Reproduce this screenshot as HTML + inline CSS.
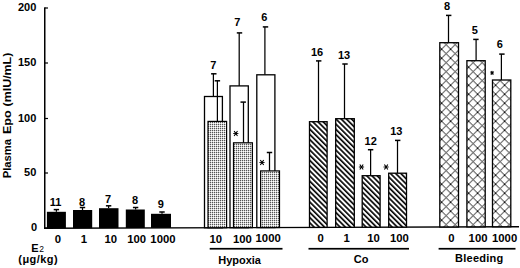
<!DOCTYPE html>
<html><head><meta charset="utf-8"><style>
html,body{margin:0;padding:0;background:#fff;width:520px;height:268px;overflow:hidden;}
svg{display:block;font-family:"Liberation Sans",sans-serif;}
</style></head><body>
<svg width="520" height="268" viewBox="0 0 520 268" font-family="Liberation Sans, sans-serif" font-weight="bold">
<defs>
<pattern id="dots" width="2" height="2" patternUnits="userSpaceOnUse">
 <rect width="2" height="2" fill="#fff"/><rect width="1" height="1" fill="#555"/><rect x="1" width="1" height="1" fill="#d0d0d0"/><rect y="1" width="1" height="1" fill="#d0d0d0"/>
</pattern>
<pattern id="diag" width="3.677" height="3.677" patternUnits="userSpaceOnUse" patternTransform="rotate(45)">
 <rect width="3.677" height="3.677" fill="#fff"/><rect y="0.2" width="3.677" height="1.65" fill="#000"/>
</pattern>
<pattern id="cross" width="9" height="9" patternUnits="userSpaceOnUse" patternTransform="translate(441.6 49.2)">
 <rect width="9" height="9" fill="#fff"/>
 <path d="M0 0 L9 9 M9 0 L0 9 M-1 8 L1 10 M8 -1 L10 1 M-1 1 L1 -1 M8 10 L10 8" stroke="#000" stroke-width="0.9"/>
</pattern>
</defs>
<rect x="44" y="7.3" width="1.5" height="221.5" fill="#000"/>
<rect x="45" y="7.4" width="3" height="1.2" fill="#000"/>
<text x="36.3" y="11.2" text-anchor="end" font-size="11" >200</text>
<rect x="45" y="62.4" width="3" height="1.2" fill="#000"/>
<text x="36.3" y="66.2" text-anchor="end" font-size="11" >150</text>
<rect x="45" y="117.9" width="3" height="1.2" fill="#000"/>
<text x="36.3" y="121.7" text-anchor="end" font-size="11" >100</text>
<rect x="45" y="172.4" width="3" height="1.2" fill="#000"/>
<text x="36.3" y="176.2" text-anchor="end" font-size="11" >50</text>
<rect x="45" y="227.4" width="3" height="1.2" fill="#000"/>
<text x="37.2" y="231.2" text-anchor="end" font-size="11" >0</text>
<path d="M44 228.30 L519 226.70" stroke="#000" stroke-width="1.4" fill="none"/>
<rect x="46.9" y="211.8" width="19.00" height="16.46" fill="#000"/>
<line x1="56.4" y1="211.8" x2="56.4" y2="209.6" stroke="#000" stroke-width="1.25"/><line x1="53.699999999999996" y1="209.6" x2="59.1" y2="209.6" stroke="#000" stroke-width="1.5"/>
<text x="55.6" y="205.7" text-anchor="middle" font-size="11" >11</text>
<rect x="73" y="210" width="19.20" height="18.17" fill="#000"/>
<line x1="82.5" y1="210" x2="82.5" y2="207.5" stroke="#000" stroke-width="1.25"/><line x1="79.8" y1="207.5" x2="85.2" y2="207.5" stroke="#000" stroke-width="1.5"/>
<text x="82" y="205.7" text-anchor="middle" font-size="11" >8</text>
<rect x="99" y="208.2" width="19.50" height="19.88" fill="#000"/>
<line x1="108.6" y1="208.2" x2="108.6" y2="205.8" stroke="#000" stroke-width="1.25"/><line x1="105.89999999999999" y1="205.8" x2="111.3" y2="205.8" stroke="#000" stroke-width="1.5"/>
<text x="108" y="202.7" text-anchor="middle" font-size="11" >7</text>
<rect x="125.8" y="209.5" width="19.00" height="18.49" fill="#000"/>
<line x1="135.6" y1="209.5" x2="135.6" y2="207.5" stroke="#000" stroke-width="1.25"/><line x1="132.9" y1="207.5" x2="138.29999999999998" y2="207.5" stroke="#000" stroke-width="1.5"/>
<text x="135" y="203.5" text-anchor="middle" font-size="11" >8</text>
<rect x="151" y="213.8" width="20.00" height="14.11" fill="#000"/>
<line x1="162" y1="213.8" x2="162" y2="212" stroke="#000" stroke-width="1.25"/><line x1="159.3" y1="212" x2="164.7" y2="212" stroke="#000" stroke-width="1.5"/>
<text x="160.8" y="207.6" text-anchor="middle" font-size="11" >9</text>
<line x1="213.4" y1="96.5" x2="213.4" y2="73.8" stroke="#000" stroke-width="1.25"/><line x1="211.10000000000002" y1="73.8" x2="216.5" y2="73.8" stroke="#000" stroke-width="1.5"/>
<rect x="204.5" y="96.5" width="17.90" height="131.23" fill="#fff" stroke="#000" stroke-width="1.3"/>
<text x="213.2" y="69.2" text-anchor="middle" font-size="11" >7</text>
<line x1="239.2" y1="85.9" x2="239.2" y2="32.9" stroke="#000" stroke-width="1.25"/><line x1="236.8" y1="32.9" x2="242.2" y2="32.9" stroke="#000" stroke-width="1.5"/>
<rect x="230" y="85.9" width="18.30" height="141.74" fill="#fff" stroke="#000" stroke-width="1.3"/>
<text x="237.4" y="26.4" text-anchor="middle" font-size="11" >7</text>
<line x1="264.9" y1="74.8" x2="264.9" y2="26.9" stroke="#000" stroke-width="1.25"/><line x1="262.8" y1="26.9" x2="268.2" y2="26.9" stroke="#000" stroke-width="1.5"/>
<rect x="256.8" y="74.8" width="18.10" height="152.75" fill="#fff" stroke="#000" stroke-width="1.3"/>
<text x="264.3" y="21.4" text-anchor="middle" font-size="11" >6</text>
<line x1="217.4" y1="121.4" x2="217.4" y2="80.8" stroke="#000" stroke-width="1.25"/><line x1="214.70000000000002" y1="80.8" x2="220.1" y2="80.8" stroke="#000" stroke-width="1.5"/>
<rect x="208" y="121.4" width="18.60" height="106.32" fill="url(#dots)" stroke="#000" stroke-width="1.2"/>
<line x1="243.5" y1="142.8" x2="243.5" y2="102.1" stroke="#000" stroke-width="1.25"/><line x1="240.5" y1="102.1" x2="245.89999999999998" y2="102.1" stroke="#000" stroke-width="1.5"/>
<rect x="233.5" y="142.8" width="18.90" height="84.83" fill="url(#dots)" stroke="#000" stroke-width="1.2"/>
<path d="M234.12 131.01 L237.48 135.99 M237.48 131.01 L234.12 135.99" stroke="#000" stroke-width="1.1" fill="none"/><path d="M233.20 133.5 L238.40 133.5" stroke="#000" stroke-width="0.9" fill="none"/><circle cx="235.8" cy="133.5" r="1.00" fill="#000"/>
<line x1="269.5" y1="170.9" x2="269.5" y2="152.5" stroke="#000" stroke-width="1.25"/><line x1="266.8" y1="152.5" x2="272.2" y2="152.5" stroke="#000" stroke-width="1.5"/>
<rect x="260.6" y="170.9" width="18.90" height="56.64" fill="url(#dots)" stroke="#000" stroke-width="1.2"/>
<path d="M260.32 160.01 L263.68 164.99 M263.68 160.01 L260.32 164.99" stroke="#000" stroke-width="1.1" fill="none"/><path d="M259.40 162.5 L264.60 162.5" stroke="#000" stroke-width="0.9" fill="none"/><circle cx="262" cy="162.5" r="1.00" fill="#000"/>
<line x1="318.5" y1="121.7" x2="318.5" y2="60.9" stroke="#000" stroke-width="1.25"/><line x1="316.0" y1="60.9" x2="321.4" y2="60.9" stroke="#000" stroke-width="1.5"/>
<rect x="309.5" y="121.7" width="17.60" height="105.68" fill="url(#diag)" stroke="#000" stroke-width="1.3"/>
<text x="317" y="55.7" text-anchor="middle" font-size="11" >16</text>
<line x1="344.5" y1="118.7" x2="344.5" y2="64" stroke="#000" stroke-width="1.25"/><line x1="342.3" y1="64" x2="347.7" y2="64" stroke="#000" stroke-width="1.5"/>
<rect x="335.7" y="118.7" width="18.60" height="108.59" fill="url(#diag)" stroke="#000" stroke-width="1.3"/>
<text x="344.1" y="58.7" text-anchor="middle" font-size="11" >13</text>
<line x1="370.6" y1="175.7" x2="370.6" y2="149.7" stroke="#000" stroke-width="1.25"/><line x1="367.90000000000003" y1="149.7" x2="373.3" y2="149.7" stroke="#000" stroke-width="1.5"/>
<rect x="362.2" y="175.7" width="17.90" height="51.50" fill="url(#diag)" stroke="#000" stroke-width="1.3"/>
<text x="370.7" y="144.6" text-anchor="middle" font-size="11" >12</text>
<path d="M359.82 164.51 L363.18 169.49 M363.18 164.51 L359.82 169.49" stroke="#000" stroke-width="1.1" fill="none"/><path d="M358.90 167 L364.10 167" stroke="#000" stroke-width="0.9" fill="none"/><circle cx="361.5" cy="167" r="1.00" fill="#000"/>
<line x1="397.5" y1="173.2" x2="397.5" y2="140.4" stroke="#000" stroke-width="1.25"/><line x1="395.0" y1="140.4" x2="400.4" y2="140.4" stroke="#000" stroke-width="1.5"/>
<rect x="388.7" y="173.2" width="17.80" height="53.91" fill="url(#diag)" stroke="#000" stroke-width="1.3"/>
<text x="396.3" y="134.7" text-anchor="middle" font-size="11" >13</text>
<path d="M384.42 164.51 L387.78 169.49 M387.78 164.51 L384.42 169.49" stroke="#000" stroke-width="1.1" fill="none"/><path d="M383.50 167 L388.70 167" stroke="#000" stroke-width="0.9" fill="none"/><circle cx="386.1" cy="167" r="1.00" fill="#000"/>
<line x1="448.5" y1="42.7" x2="448.5" y2="15.4" stroke="#000" stroke-width="1.25"/><line x1="446.0" y1="15.4" x2="451.4" y2="15.4" stroke="#000" stroke-width="1.5"/>
<rect x="439.8" y="42.7" width="18.70" height="184.24" fill="url(#cross)" stroke="#000" stroke-width="1.3"/>
<text x="447" y="10.1" text-anchor="middle" font-size="11" >8</text>
<line x1="476.1" y1="60.7" x2="476.1" y2="39.4" stroke="#000" stroke-width="1.25"/><line x1="473.2" y1="39.4" x2="478.59999999999997" y2="39.4" stroke="#000" stroke-width="1.5"/>
<rect x="466.9" y="60.7" width="18.30" height="166.14" fill="url(#cross)" stroke="#000" stroke-width="1.3"/>
<text x="474.9" y="33.7" text-anchor="middle" font-size="11" >5</text>
<line x1="501.4" y1="80" x2="501.4" y2="54.1" stroke="#000" stroke-width="1.25"/><line x1="499.2" y1="54.1" x2="504.59999999999997" y2="54.1" stroke="#000" stroke-width="1.5"/>
<rect x="492.5" y="80" width="18.30" height="146.76" fill="url(#cross)" stroke="#000" stroke-width="1.3"/>
<text x="499.9" y="48.4" text-anchor="middle" font-size="11" >6</text>
<path d="M490.89 71.11 L493.31 74.69 M493.31 71.11 L490.89 74.69" stroke="#000" stroke-width="1.1" fill="none"/><path d="M490.23 72.9 L493.97 72.9" stroke="#000" stroke-width="0.9" fill="none"/><circle cx="492.1" cy="72.9" r="0.72" fill="#000"/>
<text transform="translate(58.0 243.0) scale(1.1 1)" text-anchor="middle" font-size="10.3" >0</text>
<text transform="translate(83.85 242.935375) scale(1.1 1)" text-anchor="middle" font-size="10.3" >1</text>
<text transform="translate(110.75 242.868125) scale(1.1 1)" text-anchor="middle" font-size="10.3" >10</text>
<text transform="translate(136.65 242.803375) scale(1.1 1)" text-anchor="middle" font-size="10.3" >100</text>
<text transform="translate(162.95 242.737625) scale(1.1 1)" text-anchor="middle" font-size="10.3" >1000</text>
<text transform="translate(215.7 242.60575) scale(1.1 1)" text-anchor="middle" font-size="10.3" >10</text>
<text transform="translate(242.45 242.538875) scale(1.1 1)" text-anchor="middle" font-size="10.3" >100</text>
<text transform="translate(268.15 242.474625) scale(1.1 1)" text-anchor="middle" font-size="10.3" >1000</text>
<text transform="translate(320.75 242.343125) scale(1.1 1)" text-anchor="middle" font-size="10.3" >0</text>
<text transform="translate(346.65 242.278375) scale(1.1 1)" text-anchor="middle" font-size="10.3" >1</text>
<text transform="translate(373.6 242.211) scale(1.1 1)" text-anchor="middle" font-size="10.3" >10</text>
<text transform="translate(399.4 242.1465) scale(1.1 1)" text-anchor="middle" font-size="10.3" >100</text>
<text transform="translate(451.5 242.01625) scale(1.1 1)" text-anchor="middle" font-size="10.3" >0</text>
<text transform="translate(478.05 241.949875) scale(1.1 1)" text-anchor="middle" font-size="10.3" >100</text>
<text transform="translate(504.6 241.8835) scale(1.1 1)" text-anchor="middle" font-size="10.3" >1000</text>
<rect x="209.7" y="247.9" width="72.8" height="1.7" fill="#000"/>
<rect x="308.5" y="247.9" width="100.5" height="1.7" fill="#000"/>
<rect x="438.6" y="247.9" width="76.9" height="1.7" fill="#000"/>
<text x="239.6" y="263.5" text-anchor="middle" font-size="11" >Hypoxia</text>
<text x="361.2" y="263.1" text-anchor="middle" font-size="11" >Co</text>
<text x="479.3" y="262.1" text-anchor="middle" font-size="11" letter-spacing="0.25">Bleeding</text>
<text x="31.2" y="252.2" text-anchor="start" font-size="11" >E</text>
<text x="39.3" y="252.2" text-anchor="start" font-size="8.5" font-weight="normal">2</text>
<text x="38.2" y="263.4" text-anchor="middle" font-size="11" letter-spacing="0.45">(μg/kg)</text>
<text x="0" y="0" transform="translate(10.8 178.3) rotate(-90)" font-size="11.6" textLength="39.4" lengthAdjust="spacingAndGlyphs">Plasma</text>
<text x="0" y="0" transform="translate(10.8 134.0) rotate(-90)" font-size="11.6" textLength="23.7" lengthAdjust="spacingAndGlyphs">Epo</text>
<text x="0" y="0" transform="translate(10.8 106.4) rotate(-90)" font-size="11.6" textLength="53.7" lengthAdjust="spacingAndGlyphs">(mIU/mL)</text>
</svg>
</body></html>
